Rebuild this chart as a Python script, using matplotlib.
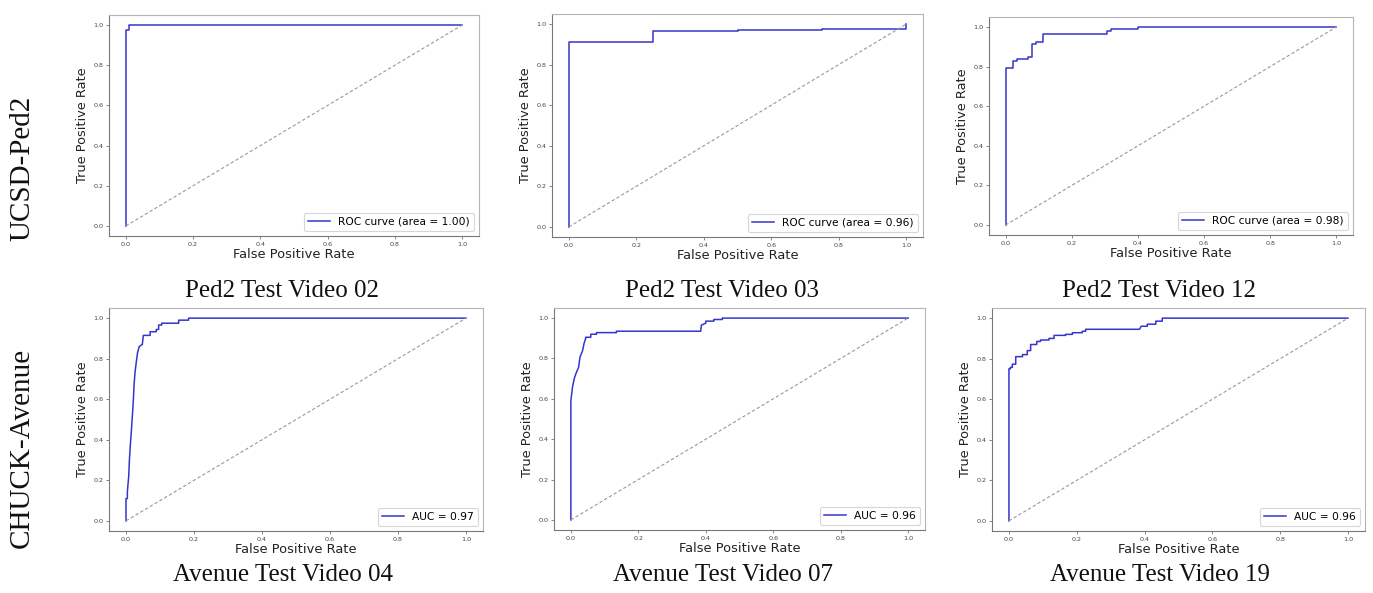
import matplotlib
matplotlib.use("Agg")
import matplotlib.pyplot as plt

# ---------------- data ----------------
captions = ["Ped2 Test Video 02", "Ped2 Test Video 03", "Ped2 Test Video 12",
            "Avenue Test Video 04", "Avenue Test Video 07", "Avenue Test Video 19"]
row_labels = ["UCSD-Ped2", "CHUCK-Avenue"]
legend_labels = ["ROC curve (area = 1.00)", "ROC curve (area = 0.96)", "ROC curve (area = 0.98)",
                 "AUC = 0.97", "AUC = 0.96", "AUC = 0.96"]
tick_values = [0.0, 0.2, 0.4, 0.6, 0.8, 1.0]
tick_labels = ["0.0", "0.2", "0.4", "0.6", "0.8", "1.0"]

fpr_ped2_02 = [0.0, 0.0, 0.01, 0.01, 1.0]
tpr_ped2_02 = [0.0, 0.975, 0.975, 1.0, 1.0]

fpr_ped2_03 = [0.0, 0.0, 0.25, 0.25, 0.5, 0.5, 0.75, 0.75, 1.0, 1.0]
tpr_ped2_03 = [0.0, 0.912, 0.912, 0.967, 0.967, 0.972, 0.972, 0.978, 0.978, 1.0]

fpr_ped2_12 = [0, 0, 0.022, 0.022, 0.034, 0.034, 0.068, 0.068, 0.079, 0.079,
               0.091, 0.091, 0.113, 0.113, 0.307, 0.307, 0.318, 0.318, 0.401, 0.401, 1.0]
tpr_ped2_12 = [0, 0.795, 0.795, 0.83, 0.83, 0.84, 0.84, 0.85, 0.85, 0.915,
               0.915, 0.925, 0.925, 0.966, 0.966, 0.977, 0.977, 0.987, 0.987, 1.0, 1.0]

fpr_ave_04 = [0, 0, 0.004, 0.004, 0.008, 0.010, 0.013, 0.016, 0.018, 0.020,
              0.022, 0.024, 0.027, 0.030, 0.034, 0.039, 0.043, 0.048, 0.051, 0.071,
              0.071, 0.089, 0.089, 0.096, 0.096, 0.105, 0.105, 0.155, 0.155, 0.184,
              0.184, 1.0]
tpr_ave_04 = [0, 0.11, 0.11, 0.144, 0.22, 0.30, 0.38, 0.45, 0.50, 0.55,
              0.61, 0.68, 0.74, 0.78, 0.83, 0.86, 0.865, 0.87, 0.915, 0.915,
              0.933, 0.933, 0.944, 0.944, 0.966, 0.966, 0.975, 0.975, 0.99, 0.99,
              1.0, 1.0]

fpr_ave_07 = [0, 0, 0.005, 0.01, 0.015, 0.023, 0.027, 0.035, 0.039, 0.044,
              0.044, 0.059, 0.059, 0.076, 0.076, 0.135, 0.135,
              0.385, 0.387, 0.40, 0.40, 0.424, 0.424, 0.449, 0.449, 1.0]
tpr_ave_07 = [0, 0.59, 0.66, 0.70, 0.725, 0.757, 0.807, 0.84, 0.874, 0.90,
              0.905, 0.905, 0.92, 0.92, 0.928, 0.928, 0.935,
              0.935, 0.965, 0.975, 0.985, 0.985, 0.993, 0.993, 1.0, 1.0]

fpr_ave_19 = [0, 0, 0.004, 0.004, 0.01, 0.01, 0.02, 0.02, 0.04, 0.04,
              0.054, 0.054, 0.064, 0.064, 0.082, 0.082, 0.093, 0.093, 0.118, 0.118,
              0.133, 0.133, 0.167, 0.167, 0.187, 0.187, 0.216, 0.216, 0.226, 0.226,
              0.385, 0.39, 0.408, 0.408, 0.433, 0.433, 0.452, 0.452, 1.0]
tpr_ave_19 = [0, 0.75, 0.75, 0.757, 0.757, 0.773, 0.773, 0.81, 0.81, 0.82,
              0.82, 0.84, 0.84, 0.87, 0.87, 0.885, 0.885, 0.892, 0.892, 0.90,
              0.90, 0.915, 0.915, 0.92, 0.92, 0.928, 0.928, 0.935, 0.935, 0.945,
              0.945, 0.96, 0.96, 0.97, 0.97, 0.985, 0.985, 1.0, 1.0]

fprs = [fpr_ped2_02, fpr_ped2_03, fpr_ped2_12, fpr_ave_04, fpr_ave_07, fpr_ave_19]
tprs = [tpr_ped2_02, tpr_ped2_03, tpr_ped2_12, tpr_ave_04, tpr_ave_07, tpr_ave_19]

# ---------------- layout ----------------
W, H = 1373, 593
fig = plt.figure(figsize=(W / 100, H / 100), dpi=100)
fig.patch.set_facecolor("white")

# axes boxes in pixels: left, right, top, bottom
boxes = [(109, 479, 15, 236), (552, 923, 14, 237), (989, 1353, 17, 235),
         (109, 483, 308, 531), (554, 925, 308, 530), (992, 1365, 308, 531)]
cap_pos = [(282, 297), (722, 297), (1159, 297), (283, 581), (723, 581), (1160, 581)]

for i, (l, r, t, b) in enumerate(boxes):
    ax = fig.add_axes([l / W, (H - b) / H, (r - l) / W, (b - t) / H])
    ax.plot(fprs[i], tprs[i], color="#3535cc", lw=1.1, label=legend_labels[i])
    ax.plot([0, 1], [0, 1], color="#999999", lw=0.8, ls="--", dashes=(3, 2))
    ax.set_xlim(-0.05, 1.05)
    ax.set_ylim(-0.05, 1.05)
    ax.set_xticks(tick_values)
    ax.set_xticklabels(tick_labels)
    ax.set_yticks(tick_values)
    ax.set_yticklabels(tick_labels)
    ax.tick_params(labelsize=4.6, length=2, width=0.5, pad=2, colors="#555555",
                   labelcolor="#444444")
    for side in ["left", "bottom"]:
        ax.spines[side].set_color("#777777")
        ax.spines[side].set_linewidth(0.8)
    for side in ["top", "right"]:
        ax.spines[side].set_color("#b5b5b5")
        ax.spines[side].set_linewidth(0.8)
    ax.set_xlabel("False Positive Rate", fontsize=9.4, color="#222222", labelpad=1)
    ax.set_ylabel("True Positive Rate", fontsize=9.3, color="#222222", labelpad=3)
    leg = ax.legend(loc="lower right", fontsize=7.7, frameon=True, fancybox=True,
                    borderaxespad=0.45, handlelength=2.0)
    leg.get_frame().set_edgecolor("#cccccc")
    leg.get_frame().set_linewidth(0.8)
    cx, cy = cap_pos[i]
    fig.text(cx / W, (H - cy) / H, captions[i], ha="center", va="baseline",
             fontsize=18, family="Liberation Serif", color="#111111")

fig.text(22 / W, (H - 168) / H, row_labels[0], rotation=90, ha="center", va="center",
         fontsize=21, family="Liberation Serif", color="#111111")
fig.text(22 / W, (H - 448) / H, row_labels[1], rotation=90, ha="center", va="center",
         fontsize=21, family="Liberation Serif", color="#111111")

fig.savefig("out.png", dpi=100)
